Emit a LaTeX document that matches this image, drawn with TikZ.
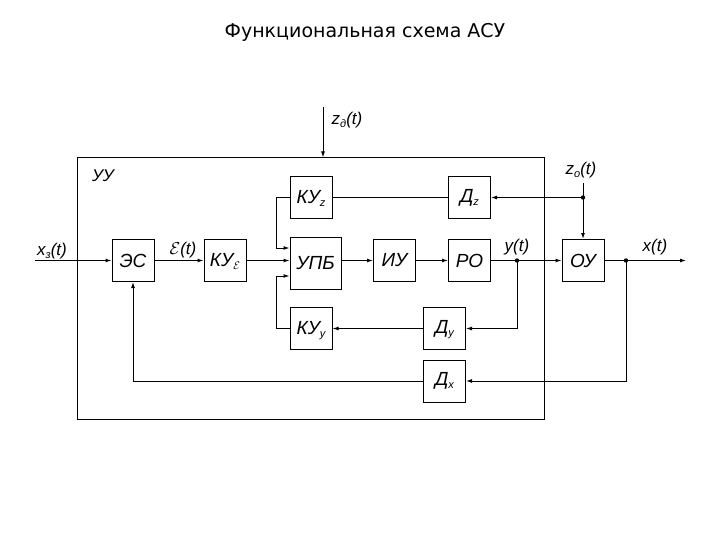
\documentclass[tikz,border=0pt]{standalone}
\usepackage{fontspec}
\setmainfont{Liberation Sans}
\newfontfamily\titlefont{DejaVu Sans}
\usetikzlibrary{arrows.meta,calc}
\newcommand\lowsub[1]{\raisebox{-0.3ex}[0pt][0pt]{\fontsize{11}{11}\selectfont #1}}
\begin{document}
\begin{tikzpicture}[x=1pt,y=-1pt,
  blk/.style={draw, line width=1pt, minimum width=42pt, minimum height=42pt, inner sep=0pt, font=\fontsize{19}{19}\selectfont\itshape},
  lbl/.style={inner sep=0pt, font=\fontsize{17}{17}\selectfont\itshape},
  arr/.style={-{Latex[length=6pt,width=4pt]}, line width=1pt},
  ln/.style={line width=1pt}]
\useasboundingbox (0,0) rectangle (720,540);
\node[font=\titlefont\fontsize{19}{19}\selectfont] (title) at (365,32) {Функциональная схема АСУ};
\node[draw, line width=1pt, minimum width=467pt, minimum height=261pt, inner sep=0pt] (uu) at (310.5,288.5) {};
\node[lbl] (luu) at (103,176) {УУ};
\node[blk] (es) at (133,260.5) {ЭС};
\node[blk] (kue) at (225,260.5) {КУ\lowsub{$\mathcal{E}$}};
\node[blk, minimum width=51pt, minimum height=52pt] (upb) at (315.5,263) {УПБ};
\node[blk] (kuz) at (311,197.5) {КУ\lowsub{z}};
\node[blk] (iu) at (394.5,260.5) {ИУ};
\node[blk] (ro) at (469.5,260.5) {РО};
\node[blk] (dz) at (469.5,197.5) {Д\lowsub{z}};
\node[blk] (ou) at (583,260.5) {ОУ};
\node[blk] (kuy) at (311,328.5) {КУ\lowsub{у}};
\node[blk] (dy) at (444.5,328.5) {Д\lowsub{у}};
\node[blk] (dx) at (444.5,381) {Д\lowsub{x}};
\coordinate (xin) at (35,260.5);
\coordinate (ydot) at (517,260.5);
\coordinate (xdot) at (626,260.5);
\coordinate (xout) at (686,260.5);
\coordinate (z0top) at (583,183);
\coordinate (z0dot) at (583,197.5);
\coordinate (zdtop) at (323,107);
\draw[arr] (xin) -- (es);
\draw[arr] (es) -- (kue);
\draw[arr] (kue.east) -- (kue.east -| upb.west);
\draw[arr] (iu.west -| upb.east) -- (iu.west);
\draw[arr] (iu) -- (ro);
\draw[arr] (ro) -- (ou);
\draw[arr] (ou) -- (xout);
\draw[arr] (z0top) -- (ou.north);
\draw[arr] (z0dot) -- (dz.east);
\draw[ln] (dz.west) -- (kuz.east);
\draw[arr] (zdtop) -- (zdtop |- uu.north);
\draw[arr] (ydot) |- (dy.east);
\draw[arr] (dy) -- (kuy);
\draw[arr] (kuy.west) -- ++(-13,0) |- ($(upb.west)+(0,13)$);
\draw[arr] (kuz.west) -- ++(-13,0) |- ($(upb.west)+(0,-15)$);
\draw[arr] (xdot) |- (dx.east);
\draw[arr] (dx.west) -| (es.south);
\fill (ydot) circle (2.2pt);
\fill (xdot) circle (2.2pt);
\fill (z0dot) circle (2.2pt);
\node[lbl] (lx) at (52,251) {x\lowsub{з}(t)};
\node[lbl] (le) at (183,250) {$\mathcal{E}$(t)};
\node[lbl] (ly) at (517,247) {y(t)};
\node[lbl] (lxo) at (655,247) {x(t)};
\node[lbl] (lzd) at (347,120) {z\lowsub{д}(t)};
\node[lbl] (lzo) at (581,170) {z\lowsub{о}(t)};
\end{tikzpicture}
\end{document}
